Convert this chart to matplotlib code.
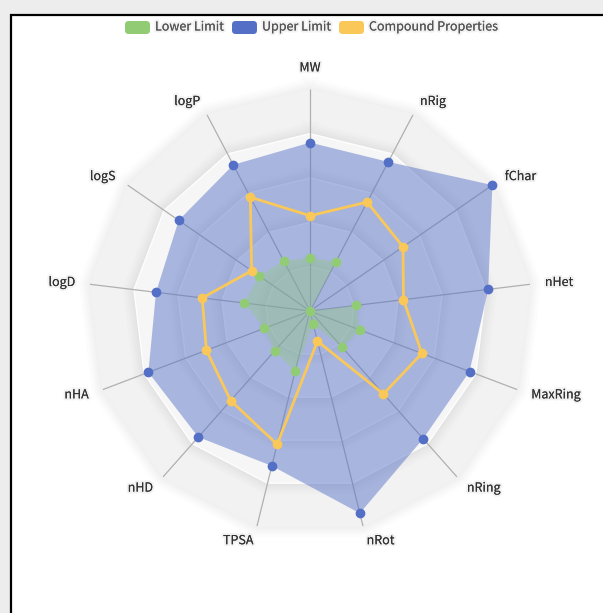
import numpy as np
import matplotlib
matplotlib.use("Agg")
import matplotlib.pyplot as plt
import matplotlib.patheffects as pe
from matplotlib.patches import Rectangle, FancyBboxPatch

plt.rcParams['font.family'] = ['Noto Sans CJK SC', 'DejaVu Sans']

# indicators, clockwise from the top
indicators = ['MW', 'nRig', 'fChar', 'nHet', 'MaxRing', 'nRing', 'nRot',
              'TPSA', 'nHD', 'nHA', 'logD', 'logS', 'logP']

# values as a fraction of each indicator's max
lower_limit = [0.24, 0.25, 0.0, 0.21, 0.24, 0.22, 0.06, 0.28, 0.24, 0.22, 0.30, 0.28, 0.255]
upper_limit = [0.76, 0.76, 1.0, 0.81, 0.77, 0.77, 0.94, 0.72, 0.76, 0.78, 0.70, 0.72, 0.745]
compound = [0.43, 0.555, 0.51, 0.425, 0.54, 0.50, 0.14, 0.62, 0.54, 0.50, 0.49, 0.32, 0.58]

series_names = ['Lower Limit', 'Upper Limit', 'Compound Properties']
series_colors = ['#91cc75', '#5470c6', '#fac858']

W, H = 603, 613
fig = plt.figure(figsize=(W / 100, H / 100), dpi=100)
fig.patch.set_facecolor('#ededed')

# white panel with black frame (runs off the right/bottom edges)
frame = Rectangle((10.5 / W, -0.1), 1.2, 1 - 14.5 / H + 0.1,
                  transform=fig.transFigure, facecolor='white',
                  edgecolor='black', linewidth=1.6, zorder=-10)
fig.add_artist(frame)

cx, cy, R = 310, 311, 221.6
ax = fig.add_axes([(cx - R) / W, (H - cy - R) / H, 2 * R / W, 2 * R / H],
                  projection='polar')
ax.set_zorder(1)
ax.set_theta_offset(np.pi / 2)
ax.set_theta_direction(-1)
ax.set_ylim(0, 1)
ax.grid(False)
ax.set_xticks([])
ax.set_yticks([])
ax.spines['polar'].set_visible(False)
ax.patch.set_alpha(0)

n = len(indicators)
theta = np.arange(n) * 2 * np.pi / n
theta_c = np.append(theta, theta[0])

def closed(v):
    return np.append(v, v[0])

# split areas, outer to inner; each casts a soft shadow outward
ring_colors = ['#f2f2f2', '#f6f6f6']
z = 1.0
for k in range(5, 0, -1):
    r = np.full(n + 1, k / 5)
    for lw in [16, 12, 9, 6, 3]:
        ax.plot(theta_c, r, color='black', lw=lw, alpha=0.013,
                solid_joinstyle='round', zorder=z, clip_on=False)
    z += 0.01
    ax.fill(theta_c, r, color=ring_colors[(5 - k) % 2], zorder=z, clip_on=False)
    z += 0.01
for k in range(1, 5):
    ax.plot(theta_c, np.full(n + 1, k / 5), color='white', lw=1, alpha=0.8, zorder=2)

# axis lines
for t in theta:
    ax.plot([t, t], [0, 1], color='#b0b0b0', lw=0.9, zorder=3)

# series
ax.fill(theta_c, closed(upper_limit), color=series_colors[1], alpha=0.48, lw=0, zorder=4)
ax.plot(theta, upper_limit, 'o', color=series_colors[1], ms=6, zorder=7, clip_on=False)

ax.fill(theta_c, closed(lower_limit), color=series_colors[0], alpha=0.35, lw=0, zorder=5)
ax.plot(theta, lower_limit, 'o', color=series_colors[0], ms=6, zorder=7, clip_on=False)

ax.plot(theta_c, closed(compound), '-', color=series_colors[2], lw=2, zorder=6)
ax.plot(theta, compound, 'o', color=series_colors[2], ms=6, zorder=8, clip_on=False)

# indicator names
shadow = [pe.withStroke(linewidth=3, foreground=(0, 0, 0, 0.05))]
r_lab = 1 + 15 / R
for name, t in zip(indicators, theta):
    s, c = np.sin(t), np.cos(t)
    ha = 'center' if abs(s) < 0.01 else ('left' if s > 0 else 'right')
    if abs(s) < 0.01:
        va = 'bottom' if c > 0 else 'top'
    else:
        va = 'center'
    ax.text(t, r_lab, name, ha=ha, va=va, fontsize=9, color='#333333',
            path_effects=shadow, zorder=9)

# legend
def px(x, y):
    return x / W, 1 - y / H

icon_x = [125, 232, 339]
label_x = [155, 262, 369]
for name, col, ix, lx in zip(series_names, series_colors, icon_x, label_x):
    x0, y0 = px(ix, 34)
    fig.add_artist(FancyBboxPatch((x0, y0), 25 / W, 13 / H,
                                  boxstyle='round,pad=0,rounding_size=0.006',
                                  transform=fig.transFigure, facecolor=col,
                                  edgecolor='none', zorder=5))
    tx, ty = px(lx, 27)
    fig.text(tx, ty, name, ha='left', va='center', fontsize=9, color='#555555',
             path_effects=shadow)

fig.savefig('out.png', dpi=100, facecolor=fig.get_facecolor())
